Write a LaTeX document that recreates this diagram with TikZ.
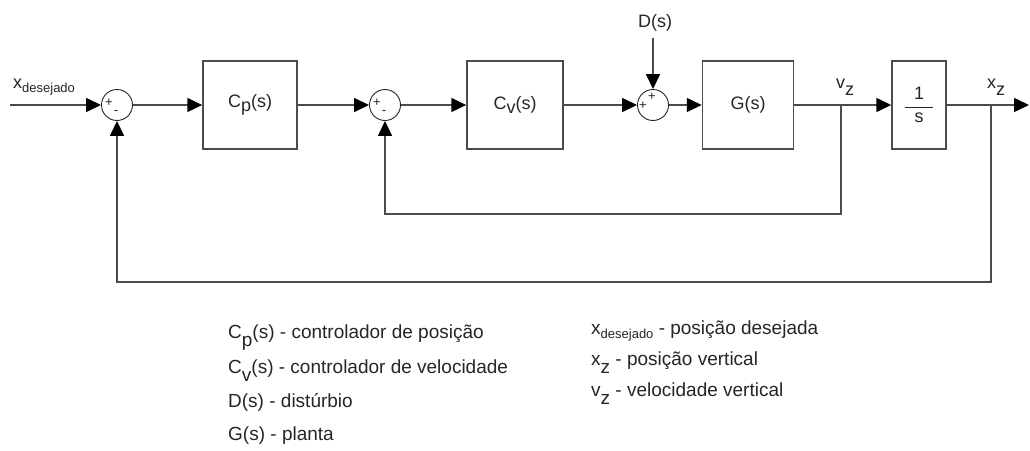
\documentclass[tikz,border=0pt]{standalone}
\usepackage{fontspec}
\setmainfont{Liberation Sans}
\usetikzlibrary{arrows.meta,positioning,calc}

% lowered subscripts as the original prints them
\newcommand{\lowsub}[2][0.45ex]{\raisebox{-#1}{#2}}
\newcommand{\smallsub}[1]{\raisebox{-0.45ex}{\fontsize{13}{14}\selectfont #1}}

\tikzset{
    blk/.style={draw=black!70, line width=1.5pt, minimum height=88pt, text=black!85,
                font=\fontsize{18}{20}\selectfont},
    sumnode/.style={circle, draw=black!85, line width=0.9pt, minimum size=31pt, inner sep=0pt},
    wire/.style={draw=black!70, line width=1.5pt},
    sig/.style={wire, -{Triangle[length=15pt,width=14pt,color=black]}},
    sgn/.style={font=\fontsize{13}{13}\selectfont, inner sep=0pt, text=black!85},
    lbl/.style={font=\fontsize{18}{20}\selectfont, inner sep=0pt, text=black!85},
    leg/.style={font=\fontsize{19}{22}\selectfont, inner sep=0pt, text=black!85, anchor=base west}
}

\begin{document}
\begin{tikzpicture}[x=1pt, y=-1pt]

    \path[fill=white, use as bounding box] (0,0) rectangle (1030,450);

    % --- forward path ---
                \coordinate (in) at (10,105);      % reference input
                \node[sumnode] (s1) at (117,105) {};
                \node[blk, minimum width=94pt] (cp) at (250,105) {C\lowsub{p}(s)};
                \node[sumnode] (s2) at (385,105) {};
                \node[blk, minimum width=96pt] (cv) at (515,105) {C\lowsub{v}(s)};
                \node[sumnode] (s3) at (653,105) {};
                \coordinate (dtop) at (653,38);    % disturbance enters here
                \node[blk, minimum width=91pt] (g) at (748,105) {G(s)};
                \coordinate (vz) at (841,105);     % velocity pick-off
                \node[blk, minimum width=54pt] (integ) at (919,105)
                    {$\displaystyle\frac{\mbox{\,\,\,1\,\,\,}}{\mbox{s}}$};
                \coordinate (xz) at (991,105);     % position pick-off
                \coordinate (out) at (1029,105);

    % --- signs on the summing junctions ---
                \node[sgn] at ($(s1)+(-8,-2)$) {+};
                \node[sgn] at ($(s1)+(-1,8)$) {-};
                \node[sgn] at ($(s2)+(-8,-2)$) {+};
                \node[sgn] at ($(s2)+(-1,8)$) {-};
                \node[sgn] at ($(s3)+(-10,1)$) {+};
                \node[sgn] at ($(s3)+(-1,-8)$) {+};

    % --- signals ---
                \draw[sig] (in) -- (s1);
                \draw[sig] (s1) -- (cp);
                \draw[sig] (cp) -- (s2);
                \draw[sig] (s2) -- (cv);
                \draw[sig] (cv) -- (s3);
                \draw[sig] (dtop) -- (s3);
                \draw[sig] (s3) -- (g);
                \draw[wire] (g) -- (vz);
                \draw[sig] (vz) -- (integ);
                \draw[wire] (integ) -- (xz);
                \draw[sig] (xz) -- (out);

    % --- feedback loops ---
                \draw[sig] (vz) -- ($(vz)+(0,109)$) -| (s2.south);
                \draw[sig] (xz) -- ($(xz)+(0,177)$) -| (s1.south);

    % --- labels ---
                \node[lbl, anchor=base west] (xdes) at (13,88) {x\smallsub{desejado}};
                \node[lbl, anchor=base] (dlab) at (655,27) {D(s)};
                \node[lbl, anchor=base] (vlab) at (845,88) {v\lowsub[0.8ex]{z}};
                \node[lbl, anchor=base] (xlab) at (996,88) {x\lowsub[0.8ex]{z}};

    % --- legend ---
                \node[leg] (l1) at (228,338) {C\lowsub[0.8ex]{p}(s) - controlador de posição};
                \node[leg] (l2) at (228,373) {C\lowsub[0.8ex]{v}(s) - controlador de velocidade};
                \node[leg] (l3) at (228,407) {D(s) - distúrbio};
                \node[leg] (l4) at (228,440) {G(s) - planta};
                \node[leg] (r1) at (591,334) {x\smallsub{desejado} - posição desejada};
                \node[leg] (r2) at (591,365) {x\lowsub[0.8ex]{z} - posição vertical};
                \node[leg] (r3) at (591,396) {v\lowsub[0.8ex]{z} - velocidade vertical};

\end{tikzpicture}
\end{document}
